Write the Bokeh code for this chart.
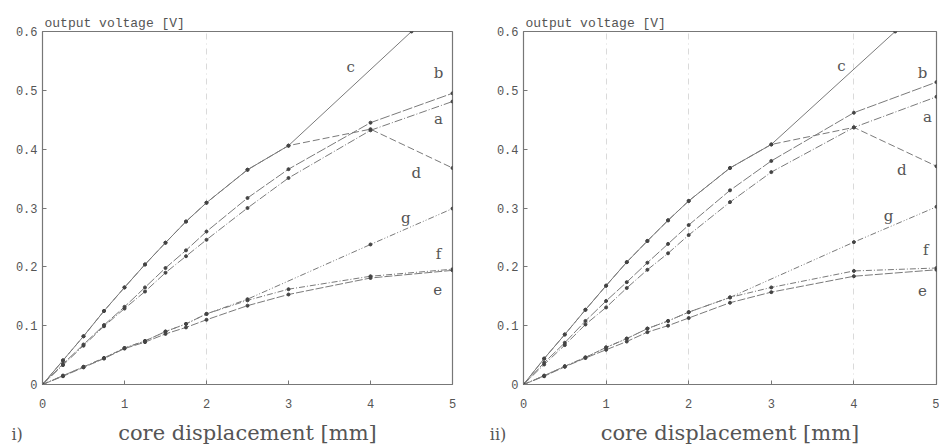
from bokeh.plotting import figure
from bokeh.models import Label, FixedTicker, Grid, LinearAxis
from bokeh.layouts import row
from bokeh.embed import file_html
from bokeh.resources import INLINE

# ---------------- data ----------------
X = [0, 0.25, 0.5, 0.75, 1, 1.25, 1.5, 1.75, 2, 2.5, 3, 4, 5]
X_C = [0, 0.25, 0.5, 0.75, 1, 1.25, 1.5, 1.75, 2, 2.5, 3, 4.5]
X_G = [0, 0.25, 0.5, 0.75, 1, 1.25, 1.5, 1.75, 2, 2.5, 4, 5]

# panel i)
a_i = [0, 0.033, 0.066, 0.099, 0.129, 0.158, 0.190, 0.218, 0.246, 0.300, 0.351, 0.432, 0.481]
b_i = [0, 0.035, 0.068, 0.101, 0.132, 0.165, 0.198, 0.228, 0.260, 0.317, 0.366, 0.445, 0.495]
c_i = [0, 0.041, 0.082, 0.125, 0.165, 0.204, 0.241, 0.277, 0.309, 0.365, 0.406, 0.600]
d_i = [0, 0.041, 0.082, 0.125, 0.165, 0.204, 0.241, 0.277, 0.309, 0.365, 0.406, 0.434, 0.368]
e_i = [0, 0.014, 0.029, 0.044, 0.061, 0.072, 0.086, 0.097, 0.110, 0.134, 0.153, 0.181, 0.194]
f_i = [0, 0.015, 0.030, 0.045, 0.062, 0.074, 0.090, 0.103, 0.120, 0.143, 0.162, 0.184, 0.196]
g_i = [0, 0.015, 0.030, 0.045, 0.062, 0.074, 0.090, 0.103, 0.120, 0.145, 0.238, 0.299]

# panel ii)
a_ii = [0, 0.034, 0.067, 0.102, 0.131, 0.164, 0.195, 0.223, 0.254, 0.310, 0.361, 0.437, 0.489]
b_ii = [0, 0.037, 0.071, 0.108, 0.142, 0.174, 0.207, 0.239, 0.271, 0.330, 0.380, 0.462, 0.514]
c_ii = [0, 0.044, 0.085, 0.127, 0.168, 0.208, 0.244, 0.279, 0.312, 0.368, 0.408, 0.600]
d_ii = [0, 0.044, 0.085, 0.127, 0.168, 0.208, 0.244, 0.279, 0.312, 0.368, 0.408, 0.437, 0.371]
e_ii = [0, 0.014, 0.030, 0.045, 0.059, 0.073, 0.089, 0.100, 0.113, 0.139, 0.157, 0.184, 0.195]
f_ii = [0, 0.015, 0.031, 0.046, 0.063, 0.078, 0.095, 0.108, 0.123, 0.148, 0.165, 0.193, 0.198]
g_ii = [0, 0.015, 0.031, 0.046, 0.063, 0.078, 0.095, 0.108, 0.123, 0.148, 0.242, 0.302]

X_TICKS = [0, 1, 2, 3, 4, 5]
Y_TICKS = [0, 0.1, 0.2, 0.3, 0.4, 0.5, 0.6]
Y_LABELS = {0: "0", 0.1: "0.1", 0.2: "0.2", 0.3: "0.3", 0.4: "0.4", 0.5: "0.5", 0.6: "0.6"}

X_TITLE = "core displacement [mm]"
Y_TITLE = "output voltage [V]"
NB = "\u00a0"

LINE_COL = "#7a7a7a"
DOT_COL = "#444444"
TEXT_COL = "#555555"

STYLES = {
    "a": "8 2 1 2",
    "b": "10 2",
    "c": "solid",
    "d": "7 3",
    "e": "8 2",
    "f": "6 2 1 2",
    "g": "6 2 1 2 1 2",
}


def make_panel(series, letters, panel_tag, grid_x, width, bl, br):
    p = figure(width=width, height=447, x_range=(0, 5), y_range=(0, 0.6),
               output_backend="svg", toolbar_location=None,
               min_border_left=bl, min_border_right=br,
               min_border_top=31, min_border_bottom=63)
    p.background_fill_color = "white"
    p.border_fill_color = "white"
    p.outline_line_color = "#777777"
    p.outline_line_width = 1.2

    p.title.text = Y_TITLE
    p.title.text_font = "Liberation Mono"
    p.title.text_font_size = "13px"
    p.title.text_font_style = "normal"
    p.title.text_color = TEXT_COL
    p.title.align = "left"
    p.title.offset = 2
    p.title.standoff = 2

    p.grid.visible = False
    g = Grid(dimension=0, ticker=FixedTicker(ticks=grid_x),
             grid_line_color="#dadada", grid_line_dash="6 4 1 4",
             grid_line_width=1)
    p.add_layout(g)

    for ax in (p.xaxis[0], p.yaxis[0]):
        ax.axis_line_color = None
        ax.major_tick_in = 4
        ax.major_tick_out = 0
        ax.minor_tick_in = 0
        ax.minor_tick_out = 0
        ax.major_tick_line_color = "#777777"
        ax.major_label_text_color = TEXT_COL
        ax.major_label_text_font = "Liberation Mono"
        ax.major_label_text_font_size = "12px"

    p.xaxis.ticker = FixedTicker(ticks=X_TICKS)
    p.yaxis.ticker = FixedTicker(ticks=Y_TICKS)
    p.yaxis.major_label_overrides = Y_LABELS
    p.xaxis.major_label_standoff = 14
    p.yaxis.major_label_standoff = 5

    # second axis below: carries the panel tag and the x title on one line
    ax2 = LinearAxis(ticker=FixedTicker(ticks=[0]),
                     major_label_overrides={0: panel_tag + NB * 10})
    ax2.axis_line_color = None
    ax2.major_tick_in = 0
    ax2.major_tick_out = 0
    ax2.minor_tick_in = 0
    ax2.minor_tick_out = 0
    ax2.major_label_standoff = 14
    ax2.major_label_text_font = "DejaVu Serif"
    ax2.major_label_text_font_size = "16px"
    ax2.major_label_text_color = TEXT_COL
    ax2.axis_label = X_TITLE
    ax2.axis_label_text_font = "DejaVu Serif"
    ax2.axis_label_text_font_size = "21px"
    ax2.axis_label_text_font_style = "normal"
    ax2.axis_label_text_color = TEXT_COL
    ax2.axis_label_standoff = -26
    p.add_layout(ax2, "below")

    for key, (xs, ys) in series.items():
        p.line(xs, ys, line_color=LINE_COL, line_width=1.0, line_dash=STYLES[key])
        p.scatter(xs, ys, size=3.0, color=DOT_COL)

    for key, (lx, ly) in letters.items():
        p.add_layout(Label(x=lx, y=ly, text=key, text_font="DejaVu Serif",
                           text_font_size="15px", text_color=TEXT_COL,
                           text_align="center", text_baseline="middle"))
    return p


series_i = {"c": (X_C, c_i), "d": (X, d_i), "b": (X, b_i), "a": (X, a_i),
            "g": (X_G, g_i), "f": (X, f_i), "e": (X, e_i)}
series_ii = {"c": (X_C, c_ii), "d": (X, d_ii), "b": (X, b_ii), "a": (X, a_ii),
             "g": (X_G, g_ii), "f": (X, f_ii), "e": (X, e_ii)}

letters_i = {"c": (3.76, 0.54), "b": (4.83, 0.53), "a": (4.83, 0.452),
             "d": (4.56, 0.36), "g": (4.43, 0.283), "f": (4.83, 0.222), "e": (4.82, 0.162)}
letters_ii = {"c": (3.85, 0.541), "b": (4.83, 0.53), "a": (4.89, 0.454),
              "d": (4.58, 0.364), "g": (4.42, 0.286), "f": (4.87, 0.229), "e": (4.83, 0.159)}

p1 = make_panel(series_i, letters_i, "i)", [2], 482, 42, 30)
p2 = make_panel(series_ii, letters_ii, "ii)", [1, 2, 4], 457, 41, 3)

layout = row(p1, p2)
open("out.html", "w").write(file_html(layout, INLINE))
